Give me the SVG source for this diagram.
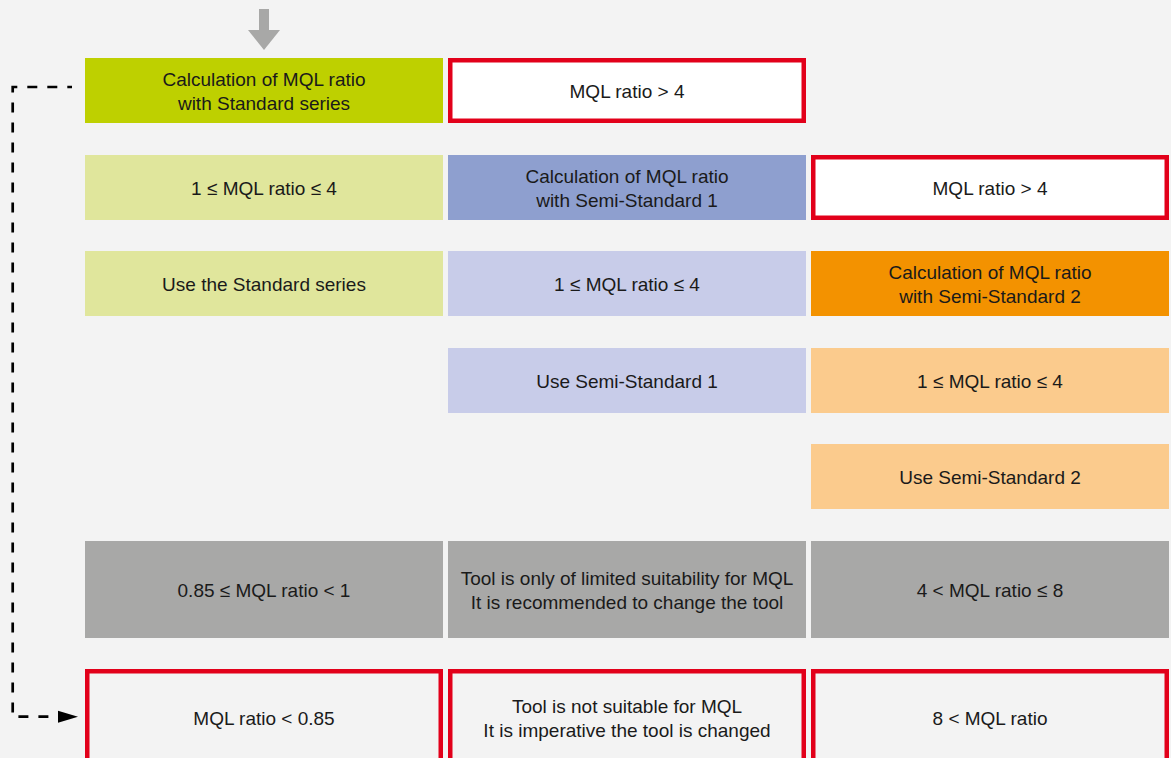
<svg xmlns="http://www.w3.org/2000/svg" width="1171" height="758" viewBox="0 0 1171 758">
<defs>
<style>
.t{font-family:"Liberation Sans",Arial,sans-serif;font-size:19px;fill:#1a1a1a;text-anchor:middle}
.g1{fill:#bed000}
.g2{fill:#e0e69c}
.b1{fill:#8e9fcf}
.b2{fill:#c8cce9}
.o1{fill:#f39200}
.o2{fill:#fbcb8d}
.gr{fill:#a8a8a7}
.rw{fill:#ffffff;stroke:#e2001a;stroke-width:4.5}
.rb{fill:#f3f3f3;stroke:#e2001a;stroke-width:4.5}
.dash{fill:none;stroke:#000;stroke-width:2.7;stroke-dasharray:10 10;stroke-dashoffset:5.3}
</style>
<marker id="ah" markerUnits="userSpaceOnUse" markerWidth="22" markerHeight="14" refX="0" refY="7" orient="auto">
<polygon points="0,1 20,7 0,13" fill="#000"/>
</marker>
</defs>
<rect x="0" y="0" width="1171" height="758" fill="#f3f3f3"/>

<g id="start-arrow">
<rect x="259" y="9" width="10" height="22" fill="#a8a8a7"/>
<polygon points="248,30 280,30 264,50" fill="#a8a8a7"/>
</g>

<g id="connectors">
<path class="dash" d="M72,87 H12.7 V716.7 H58" marker-end="url(#ah)"/>
</g>

<g id="calc-standard"><rect class="g1" x="85" y="58" width="358" height="65"/><text class="t" x="264" y="86">Calculation of MQL ratio</text><text class="t" x="264" y="110">with Standard series</text></g>
<g id="std-gt4"><rect class="rw" x="450.25" y="60.25" width="353.5" height="60.5"/><text class="t" x="627" y="97.5">MQL ratio &gt; 4</text></g>

<g id="std-range"><rect class="g2" x="85" y="155" width="358" height="65"/><text class="t" x="264" y="194.5">1 ≤ MQL ratio ≤ 4</text></g>
<g id="calc-semi1"><rect class="b1" x="448" y="155" width="358" height="65"/><text class="t" x="627" y="183">Calculation of MQL ratio</text><text class="t" x="627" y="207">with Semi-Standard 1</text></g>
<g id="semi1-gt4"><rect class="rw" x="813.25" y="157.25" width="353.5" height="60.5"/><text class="t" x="990" y="194.5">MQL ratio &gt; 4</text></g>

<g id="use-std"><rect class="g2" x="85" y="251" width="358" height="65"/><text class="t" x="264" y="290.5">Use the Standard series</text></g>
<g id="semi1-range"><rect class="b2" x="448" y="251" width="358" height="65"/><text class="t" x="627" y="290.5">1 ≤ MQL ratio ≤ 4</text></g>
<g id="calc-semi2"><rect class="o1" x="811" y="251" width="358" height="65"/><text class="t" x="990" y="279">Calculation of MQL ratio</text><text class="t" x="990" y="303">with Semi-Standard 2</text></g>

<g id="use-semi1"><rect class="b2" x="448" y="348" width="358" height="65"/><text class="t" x="627" y="387.5">Use Semi-Standard 1</text></g>
<g id="semi2-range"><rect class="o2" x="811" y="348" width="358" height="65"/><text class="t" x="990" y="387.5">1 ≤ MQL ratio ≤ 4</text></g>

<g id="use-semi2"><rect class="o2" x="811" y="444" width="358" height="65"/><text class="t" x="990" y="483.5">Use Semi-Standard 2</text></g>

<g id="low-range"><rect class="gr" x="85" y="541" width="358" height="97"/><text class="t" x="264" y="596.5">0.85 ≤ MQL ratio &lt; 1</text></g>
<g id="limited"><rect class="gr" x="448" y="541" width="358" height="97"/><text class="t" x="627" y="585">Tool is only of limited suitability for MQL</text><text class="t" x="627" y="609">It is recommended to change the tool</text></g>
<g id="high-range"><rect class="gr" x="811" y="541" width="358" height="97"/><text class="t" x="990" y="596.5">4 &lt; MQL ratio ≤ 8</text></g>

<g id="too-low"><rect class="rb" x="87.25" y="671.25" width="353.5" height="92.5"/><text class="t" x="264" y="725">MQL ratio &lt; 0.85</text></g>
<g id="not-suitable"><rect class="rb" x="450.25" y="671.25" width="353.5" height="92.5"/><text class="t" x="627" y="713">Tool is not suitable for MQL</text><text class="t" x="627" y="737">It is imperative the tool is changed</text></g>
<g id="too-high"><rect class="rb" x="813.25" y="671.25" width="353.5" height="92.5"/><text class="t" x="990" y="725">8 &lt; MQL ratio</text></g>
</svg>
